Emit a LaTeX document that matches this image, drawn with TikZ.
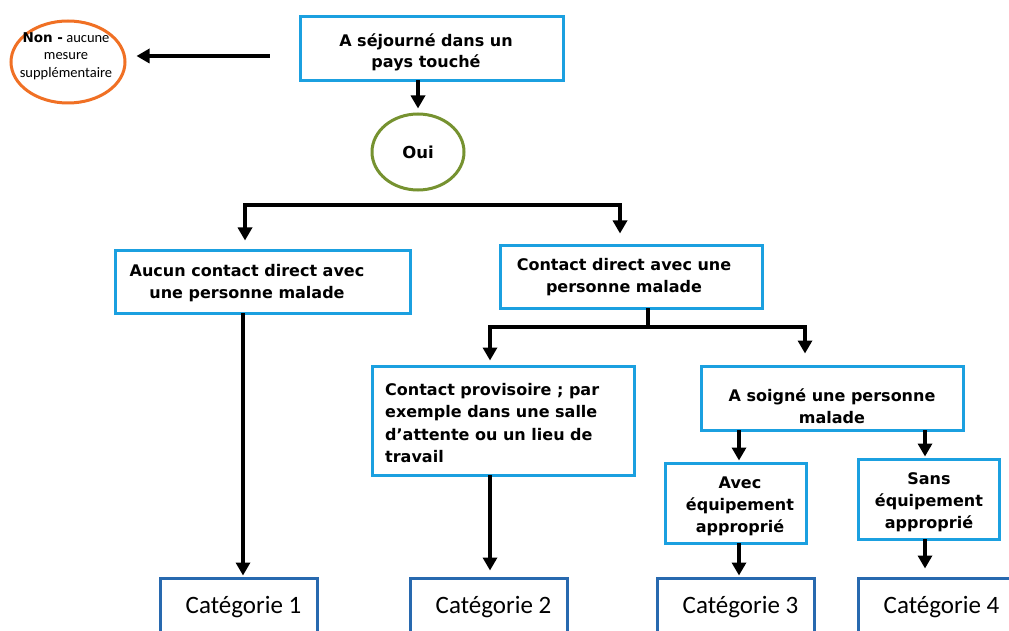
\documentclass[tikz,border=0pt]{standalone}
\usepackage{fontspec}
\setmainfont{DejaVu Sans}
\newfontfamily\catfont{Carlito}
\usetikzlibrary{arrows.meta,shapes.geometric}
\definecolor{boxblue}{RGB}{27,160,224}
\definecolor{catblue}{RGB}{40,105,175}
\definecolor{nonorange}{RGB}{240,112,36}
\definecolor{ouigreen}{RGB}{118,146,48}
\begin{document}
\begin{tikzpicture}[x=1pt,y=-1pt,
  box/.style={draw=boxblue,line width=3pt,rectangle,inner sep=0pt},
  txt/.style={font=\fontsize{16}{22}\selectfont\bfseries,align=center,inner sep=0pt},
  cat/.style={draw=catblue,line width=3pt,rectangle,minimum width=157pt,minimum height=58pt,inner sep=0pt,font=\catfont\fontsize{25}{30}\selectfont},
  conn/.style={line width=4pt,line cap=rect},
  arr/.style={line width=4pt,line cap=rect,-{Triangle[length=13pt,width=14pt]}},
]
\useasboundingbox (0,0) rectangle (1009,631);
\fill[white] (0,0) rectangle (1009,631);
\clip (0,0) rectangle (1009,631);

% Non ellipse
\node[draw=nonorange,line width=3pt,ellipse,minimum width=114pt,minimum height=82pt,inner sep=0pt] (non) at (68,62) {};
\node[align=center,inner sep=0pt,font=\catfont\fontsize{14.5}{17.5}\selectfont] (nontxt) at (66,56)
  {{\fontspec{DejaVu Sans}\fontsize{13.5}{17.5}\selectfont\bfseries Non -} aucune\\mesure\\supplémentaire};
\coordinate (nstart) at (268,56);

% top
\node[box,minimum width=263pt,minimum height=64pt] (top) at (431.5,49) {};
\node[txt,font=\fontsize{16}{21}\selectfont\bfseries] (toptxt) at (426,52) {A séjourné dans un\\pays touché};

% oui
\node[draw=ouigreen,line width=3pt,ellipse,minimum width=92pt,minimum height=76pt,inner sep=0pt,font=\fontsize{16.5}{20}\selectfont\bfseries] (oui) at (418,152) {Oui};

% level 2
\node[box,minimum width=295pt,minimum height=63pt] (aucun) at (262.5,281.5) {};
\node[txt] (aucuntxt) at (247,283) {Aucun contact direct avec\\une personne malade};
\node[box,minimum width=262pt,minimum height=63pt] (direct) at (631,276.5) {};
\node[txt] (directtxt) at (624,277) {Contact direct avec une\\personne malade};

% level 3
\node[box,minimum width=262pt,minimum height=109pt] (prov) at (503,420.5) {};
\node[txt,align=left,anchor=west,font=\fontsize{16}{22.5}\selectfont\bfseries] (provtxt) at (385,423)
  {Contact provisoire ; par\\exemple dans une salle\\d’attente ou un lieu de\\travail};
\node[box,minimum width=262pt,minimum height=64pt] (soigne) at (832,398) {};
\node[txt] (soignetxt) at (832,406) {A soigné une personne\\malade};

% level 4
\node[box,minimum width=141pt,minimum height=80pt] (avec) at (735.5,503) {};
\node[txt] (avectxt) at (740,506) {Avec\\équipement\\approprié};
\node[box,minimum width=141pt,minimum height=80pt] (sans) at (928.5,499) {};
\node[txt] (sanstxt) at (929,502) {Sans\\équipement\\approprié};

% categories
\node[cat] (cat1) at (238.5,607) {\hspace*{10pt}Catégorie 1};
\node[cat] (cat2) at (488.5,607) {\hspace*{10pt}Catégorie 2};
\node[cat] (cat3) at (735.5,607) {\hspace*{10pt}Catégorie 3};
\node[cat] (cat4) at (936.5,607) {\hspace*{10pt}Catégorie 4};

% connectors
\draw[arr,shorten >=10pt] (nstart) -- (nstart -| non.east);
\draw[arr,shorten >=4pt] ([xshift=-13.5pt]top.south) -- ([xshift=-13.5pt]top.south |- oui.north);

\coordinate (b1L) at (245,205);
\coordinate (b1R) at (620,205);
\draw[arr,shorten >=8pt] (b1R) -- (b1L) -- (b1L |- aucun.north);
\draw[arr,shorten >=10pt] (b1R) -- (b1R |- direct.north);

\coordinate (b2L) at (490,327);
\coordinate (b2R) at (805,327);
\draw[conn] ([xshift=17pt]direct.south) -- ([xshift=17pt]direct.south |- b2L);
\draw[arr,shorten >=4pt] (b2R) -- (b2L) -- (b2L |- prov.north);
\draw[arr,shorten >=11pt] (b2R) -- (b2R |- soigne.north);

\draw[arr,shorten >=1pt] ([xshift=-19.5pt]aucun.south) -- ([xshift=-19.5pt]aucun.south |- cat1.north);
\draw[arr,shorten >=6pt] ([xshift=-13pt]prov.south) -- ([xshift=-13pt]prov.south |- cat2.north);
\draw[arr,shorten >=1pt] ([xshift=-93pt]soigne.south) -- ([xshift=-93pt]soigne.south |- avec.north);
\draw[arr,shorten >=1pt] ([xshift=93pt]soigne.south) -- ([xshift=93pt]soigne.south |- sans.north);
\draw[arr,shorten >=1pt] ([xshift=3.5pt]avec.south) -- ([xshift=3.5pt]avec.south |- cat3.north);
\draw[arr,shorten >=8pt] ([xshift=-3.5pt]sans.south) -- ([xshift=-3.5pt]sans.south |- cat4.north);
\end{tikzpicture}
\end{document}
